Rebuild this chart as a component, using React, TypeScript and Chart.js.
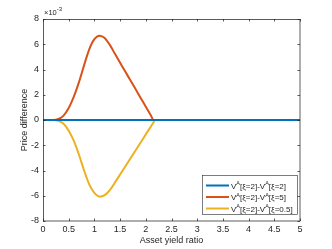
import React, { useEffect, useRef } from "react";
import { Chart, registerables } from "chart.js";

Chart.register(...registerables);

// x values: asset yield ratio
const xValues = [0, 0.1, 0.2, 0.3, 0.4, 0.5, 0.6, 0.7, 0.8, 0.9, 1.0, 1.1, 1.2, 1.3, 1.4, 1.5, 1.6, 1.7, 1.8, 1.9, 2.0, 2.1, 2.15, 2.18, 2.2, 2.5, 3, 3.5, 4, 4.5, 5];
// series values in units of 1e-3
const seriesSame = [0, 0, 0, 0, 0, 0, 0, 0, 0, 0, 0, 0, 0, 0, 0, 0, 0, 0, 0, 0, 0, 0, 0, 0, 0, 0, 0, 0, 0, 0, 0];
const seriesXi5 = [0, 0, 0, 0.08, 0.35, 0.95, 1.85, 3.0, 4.35, 5.6, 6.4, 6.68, 6.5, 5.95, 5.24, 4.54, 3.84, 3.15, 2.45, 1.75, 1.05, 0.35, 0, 0, 0, 0, 0, 0, 0, 0, 0];
const seriesXi05 = [0, 0, 0, -0.06, -0.3, -0.85, -1.65, -2.75, -4.0, -5.1, -5.78, -6.07, -5.95, -5.55, -4.95, -4.32, -3.68, -3.05, -2.41, -1.78, -1.14, -0.51, -0.19, 0, 0, 0, 0, 0, 0, 0, 0];

const seriesLabels = ["V^A[ξ=2]-V^A[ξ=2]", "V^A[ξ=2]-V^A[ξ=5]", "V^A[ξ=2]-V^A[ξ=0.5]"];
const seriesColors = ["#0072BD", "#D95319", "#EDB120"];
const xTitle = "Asset yield ratio";
const yTitle = "Price difference";

const FONT = "'Liberation Sans', Arial, Helvetica, sans-serif";
const TEXT = "#262626";

const matlabPlugin = {
  id: "matlabDecor",
  afterDatasetsDraw(chart: any) {
    const { ctx, chartArea: a, scales } = chart;
    const xs = scales.x;
    const ys = scales.y;
    ctx.save();
    // box
    ctx.strokeStyle = TEXT;
    ctx.lineWidth = 0.75;
    ctx.strokeRect(a.left + 0.5, a.top + 0.5, a.right - a.left - 0.5, a.bottom - a.top - 0.5);
    // inward ticks
    const tl = 2.5;
    ctx.beginPath();
    xs.ticks.forEach((t: any) => {
      const px = Math.round(xs.getPixelForValue(t.value)) + 0.5;
      ctx.moveTo(px, a.bottom);
      ctx.lineTo(px, a.bottom - tl);
      ctx.moveTo(px, a.top);
      ctx.lineTo(px, a.top + tl);
    });
    ys.ticks.forEach((t: any) => {
      const py = Math.round(ys.getPixelForValue(t.value)) + 0.5;
      ctx.moveTo(a.left, py);
      ctx.lineTo(a.left + tl, py);
      ctx.moveTo(a.right, py);
      ctx.lineTo(a.right - tl, py);
    });
    ctx.stroke();
    // exponent label
    ctx.fillStyle = TEXT;
    ctx.textBaseline = "alphabetic";
    ctx.textAlign = "left";
    ctx.font = `7.5px ${FONT}`;
    ctx.fillText("×10", a.left + 1, a.top - 4);
    const w = ctx.measureText("×10").width;
    ctx.font = `6px ${FONT}`;
    ctx.fillText("-3", a.left + 1 + w, a.top - 8);

    // legend
    const lx = 202, ly = 175, lw = 95, lh = 39;
    ctx.fillStyle = "#ffffff";
    ctx.fillRect(lx, ly, lw, lh);
    ctx.strokeStyle = TEXT;
    ctx.lineWidth = 0.6;
    ctx.strokeRect(lx + 0.5, ly + 0.5, lw, lh);
    const rowY = [185.5, 197, 208.5];
    chart.data.datasets.forEach((ds: any, i: number) => {
      const y = rowY[i];
      ctx.strokeStyle = ds.borderColor;
      ctx.lineWidth = 2;
      ctx.beginPath();
      ctx.moveTo(206, y);
      ctx.lineTo(229, y);
      ctx.stroke();
      const parts = String(ds.label).split(/\^(.)/);
      let x = 231;
      ctx.fillStyle = TEXT;
      parts.forEach((p: string, j: number) => {
        if (j % 2 === 1) {
          ctx.font = `5.5px ${FONT}`;
          ctx.fillText(p, x, y - 0.5);
        } else {
          ctx.font = `8px ${FONT}`;
          ctx.fillText(p, x, y + 3);
        }
        x += ctx.measureText(p).width;
      });
    });
    ctx.restore();
  },
};

export default function App() {
  const ref = useRef<HTMLCanvasElement | null>(null);
  useEffect(() => {
    if (!ref.current) return;
    const mk = (vals: number[]) => xValues.map((x, i) => ({ x, y: vals[i] }));
    const chart = new Chart(ref.current, {
      type: "line",
      data: {
        datasets: [
          { label: seriesLabels[0], data: mk(seriesSame), borderColor: seriesColors[0] },
          { label: seriesLabels[1], data: mk(seriesXi5), borderColor: seriesColors[1] },
          { label: seriesLabels[2], data: mk(seriesXi05), borderColor: seriesColors[2] },
        ].map((d) => ({ ...d, borderWidth: 2, pointRadius: 0, fill: false, cubicInterpolationMode: "monotone" as const })),
      },
      options: {
        animation: false,
        responsive: false,
        devicePixelRatio: 1,
        layout: { padding: { top: 19, right: 32, left: 0, bottom: 0 } },
        plugins: { legend: { display: false }, tooltip: { enabled: false } },
        scales: {
          x: {
            type: "linear",
            min: 0,
            max: 5,
            grid: { display: false, drawTicks: false },
            border: { display: false },
            ticks: {
              stepSize: 0.5,
              padding: 3.5,
              color: TEXT,
              font: { family: FONT, size: 9 },
              maxRotation: 0,
              callback: (v: any) => String(Math.round(Number(v) * 10) / 10),
            },
            title: { display: true, text: xTitle, color: TEXT, font: { family: FONT, size: 9 }, padding: { top: 1, bottom: 3.5 } },
            afterFit: (s: any) => { s.height = 28; },
          },
          y: {
            type: "linear",
            min: -8,
            max: 8,
            grid: { display: false, drawTicks: false },
            border: { display: false },
            ticks: { stepSize: 2, padding: 4, color: TEXT, font: { family: FONT, size: 9 } },
            title: { display: true, text: yTitle, color: TEXT, font: { family: FONT, size: 9 }, padding: { top: 19, bottom: 2 } },
            afterFit: (s: any) => { s.width = 43; },
          },
        },
      },
      plugins: [matlabPlugin],
    });
    return () => chart.destroy();
  }, []);
  return (
    <div style={{ position: "fixed", left: 0, top: 0, width: 332, height: 249, background: "#fff" }}>
      <canvas ref={ref} width={332} height={249} style={{ width: 332, height: 249, display: "block" }} />
    </div>
  );
}
